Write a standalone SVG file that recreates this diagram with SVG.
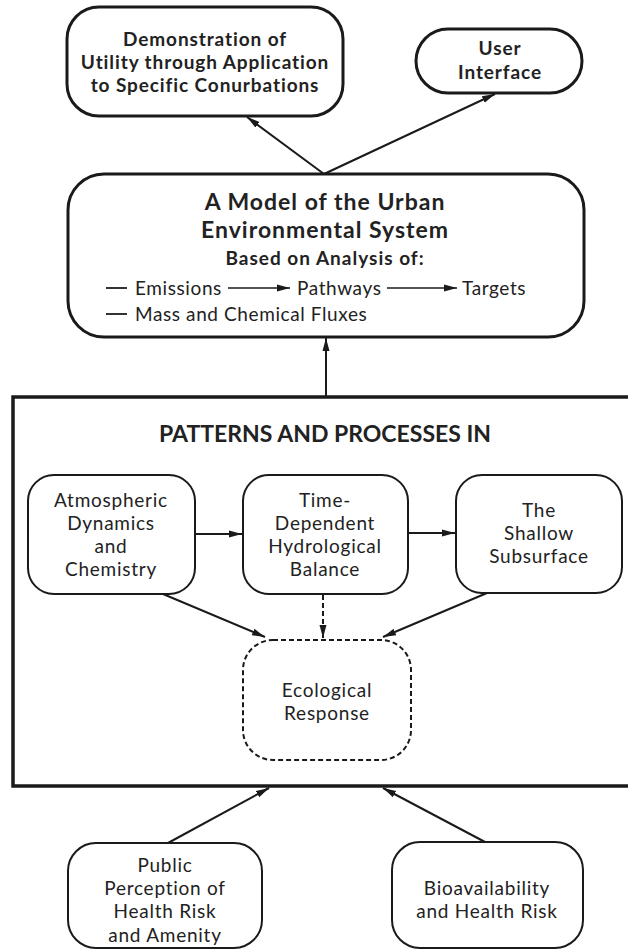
<svg xmlns="http://www.w3.org/2000/svg" width="628" height="950" viewBox="0 0 628 950">
<defs>
<marker id="ah" markerUnits="userSpaceOnUse" markerWidth="14" markerHeight="10" refX="13" refY="5" orient="auto">
<path d="M0,1.5 L13,5 L0,8.5 Z" fill="#1a1a1a"/>
</marker>
<style>
text{font-family:Lato,"Open Sans",sans-serif;fill:#222;text-anchor:middle}
.b{font-weight:bold}
.t16{font-size:19px;letter-spacing:0.9px}
.t18{font-size:19px;letter-spacing:0.75px}
.m18{font-size:19px;letter-spacing:0.6px}
.thick{fill:#fff;stroke:#1a1a1a;stroke-width:3}
.thin{fill:#fff;stroke:#1a1a1a;stroke-width:2}
.dash{fill:#fff;stroke:#1a1a1a;stroke-width:2;stroke-dasharray:5 3}
.c{stroke:#1a1a1a;stroke-width:2;fill:none;marker-end:url(#ah)}
.cd{stroke:#1a1a1a;stroke-width:2;fill:none;stroke-dasharray:5 3;marker-end:url(#ah)}
</style>
</defs>
<rect width="628" height="950" fill="#fff"/>

<g id="frame">
<rect x="13" y="397" width="660" height="389" fill="none" stroke="#1a1a1a" stroke-width="3.5"/>
<text x="325" y="442" class="b" style="font-size:23px">PATTERNS AND PROCESSES IN</text>
</g>

<g id="demonstration">
<rect x="67" y="7" width="276" height="109" rx="32" class="thick"/>
<text class="b t16" x="205" y="46">Demonstration of<tspan x="205" dy="23">Utility through Application</tspan><tspan x="205" dy="23">to Specific Conurbations</tspan></text>
</g>

<g id="user-interface">
<rect x="416" y="29" width="166" height="64" rx="32" class="thick"/>
<text class="b t16" x="500" y="55">User<tspan x="500" dy="24">Interface</tspan></text>
</g>

<g id="model">
<rect x="68" y="174" width="516" height="163" rx="36" class="thick"/>
<text class="b" style="font-size:23px;letter-spacing:1px" x="325" y="210">A Model of the Urban<tspan x="325" dy="28">Environmental System</tspan><tspan x="325" dy="27" style="font-size:19px">Based on Analysis of:</tspan></text>
<line x1="106" y1="288" x2="127" y2="288" stroke="#333" stroke-width="2"/>
<text class="m18" x="135" y="295" style="text-anchor:start">Emissions</text>
<line x1="228" y1="288" x2="290" y2="288" class="c" style="stroke-width:1.6"/>
<text class="m18" x="297" y="295" style="text-anchor:start">Pathways</text>
<line x1="387" y1="288" x2="457" y2="288" class="c" style="stroke-width:1.6"/>
<text class="m18" x="462" y="295" style="text-anchor:start">Targets</text>
<line x1="106" y1="314" x2="127" y2="314" stroke="#333" stroke-width="2"/>
<text class="m18" x="135" y="321" style="text-anchor:start">Mass and Chemical Fluxes</text>
</g>

<g id="atmospheric">
<rect x="28" y="475" width="167" height="119" rx="26" class="thin"/>
<text class="t18" x="111" y="507">Atmospheric<tspan x="111" dy="23">Dynamics</tspan><tspan x="111" dy="23">and</tspan><tspan x="111" dy="23">Chemistry</tspan></text>
</g>

<g id="hydrological">
<rect x="243" y="475" width="165" height="119" rx="26" class="thin"/>
<text class="t18" x="325" y="507">Time-<tspan x="325" dy="23">Dependent</tspan><tspan x="325" dy="23">Hydrological</tspan><tspan x="325" dy="23">Balance</tspan></text>
</g>

<g id="subsurface">
<rect x="456" y="475" width="166" height="118" rx="26" class="thin"/>
<text class="t18" x="539" y="517">The<tspan x="539" dy="23">Shallow</tspan><tspan x="539" dy="23">Subsurface</tspan></text>
</g>

<g id="ecological">
<rect x="243" y="640" width="168" height="120" rx="30" class="dash"/>
<text class="t18" x="327" y="697">Ecological<tspan x="327" dy="23">Response</tspan></text>
</g>

<g id="public">
<rect x="68" y="843" width="194" height="105" rx="28" class="thin"/>
<text class="t18" x="165" y="872">Public<tspan x="165" dy="23">Perception of</tspan><tspan x="165" dy="23">Health Risk</tspan><tspan x="165" dy="24">and Amenity</tspan></text>
</g>

<g id="bioavailability">
<rect x="392" y="842" width="191" height="106" rx="28" class="thin"/>
<text class="t18" x="487" y="895">Bioavailability<tspan x="487" dy="23">and Health Risk</tspan></text>
</g>

<g id="connectors">
<line x1="324" y1="174" x2="247" y2="117" class="c"/>
<line x1="324" y1="174" x2="495" y2="94" class="c"/>
<line x1="326" y1="397" x2="326" y2="338" class="c"/>
<line x1="195" y1="534" x2="242" y2="534" class="c"/>
<line x1="408" y1="533" x2="455" y2="533" class="c"/>
<line x1="163" y1="594" x2="265" y2="637" class="c"/>
<line x1="323" y1="595" x2="323" y2="638" class="cd"/>
<line x1="487" y1="593" x2="383" y2="637" class="c"/>
<line x1="168" y1="843" x2="269" y2="788" class="c"/>
<line x1="485" y1="842" x2="383" y2="788" class="c"/>
</g>
</svg>
